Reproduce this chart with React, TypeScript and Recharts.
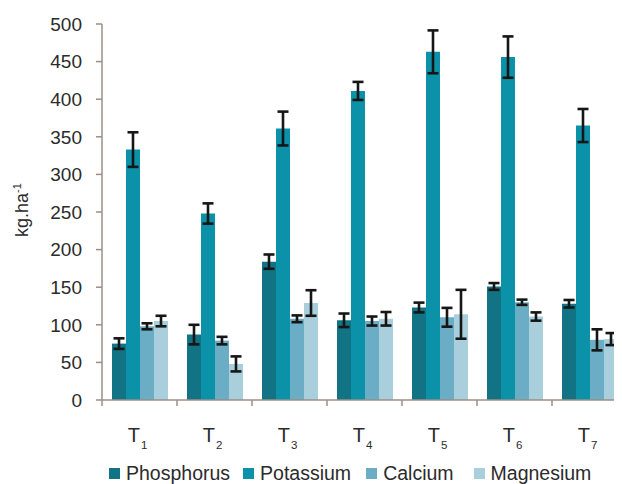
import React from 'react';
import { BarChart, Bar, XAxis, YAxis, ErrorBar, Legend } from 'recharts';

const categories = ['1', '2', '3', '4', '5', '6', '7'];
const phosphorus = [75, 87, 184, 106, 123, 151, 128];
const phosphorusErr = [7, 13, 9.5, 9, 6.5, 4.5, 5];
const potassium = [333, 248, 361, 411, 463, 456, 365];
const potassiumErr = [23, 13.5, 22.5, 12, 28.5, 27.5, 22];
const calcium = [98, 79, 108, 105, 110, 130, 80];
const calciumErr = [4, 5, 4.5, 6, 12.5, 3.5, 14];
const magnesium = [105, 48, 129, 108, 114, 111, 81];
const magnesiumErr = [7, 10, 17, 9, 32.5, 5.5, 8];
const yTicks = [0, 50, 100, 150, 200, 250, 300, 350, 400, 450, 500];

const seriesNames = ['Phosphorus', 'Potassium', 'Calcium', 'Magnesium'];
const seriesColors = ['#117384', '#0c92a8', '#6aadc4', '#aacfdc'];
const legendGaps = [13, 15, 20, 0];

const data = categories.map((c, i) => ({
  cat: c,
  Phosphorus: phosphorus[i],
  PhosphorusErr: phosphorusErr[i],
  Potassium: potassium[i],
  PotassiumErr: potassiumErr[i],
  Calcium: calcium[i],
  CalciumErr: calciumErr[i],
  Magnesium: magnesium[i],
  MagnesiumErr: magnesiumErr[i],
}));

const AXIS = '#9c8e86';
const TEXT = '#2b2b2b';

const XTick = (props: any) => {
  const { x, y, payload, index } = props;
  const half = payload && typeof payload.offset === 'number' && payload.offset > 0 ? payload.offset : 37.5;
  const last = index === categories.length - 1;
  return (
    <g>
      <line x1={x - half} x2={x - half} y1={y} y2={y + 6} stroke={AXIS} strokeWidth={1.5} />
      {last && <line x1={x + half} x2={x + half} y1={y} y2={y + 6} stroke={AXIS} strokeWidth={1.5} />}
      <text x={x - 2} y={y + 42} textAnchor="middle" fill={TEXT} fontSize={20}>
        T<tspan fontSize={11.5} dy={7} dx={1}>{payload.value}</tspan>
      </text>
    </g>
  );
};

const YLabel = (props: any) => {
  const vb = props.viewBox || { y: 16, height: 376 };
  const cy = vb.y + vb.height / 2 - 2;
  const cx = 20;
  return (
    <text x={cx} y={cy} transform={`rotate(-90, ${cx}, ${cy})`} textAnchor="middle" fill={TEXT} fontSize={18}>
      kg.ha<tspan fontSize={11} dy={-7}>-1</tspan>
    </text>
  );
};

const LegendContent = () => (
  <div style={{ display: 'flex', alignItems: 'center', fontSize: 19.5, lineHeight: '22px', color: TEXT, whiteSpace: 'nowrap' }}>
    {seriesNames.map((n, i) => (
      <div key={n} style={{ display: 'flex', alignItems: 'center', marginRight: legendGaps[i] }}>
        <span style={{ display: 'inline-block', width: 11, height: 11, background: seriesColors[i], marginRight: 6 }} />
        <span>{n}</span>
      </div>
    ))}
  </div>
);

export default function App() {
  return (
    <div style={{ width: 614, height: 476, overflow: 'hidden', fontFamily: '"Liberation Sans", Arial, sans-serif', position: 'relative' }}>
      <BarChart
        width={630}
        height={476}
        data={data}
        margin={{ top: 16, right: 11, left: 0, bottom: 0 }}
        barCategoryGap={10}
        barGap={0}
      >
        <XAxis
          dataKey="cat"
          interval={0}
          height={84}
          tickSize={0}
          tickMargin={0}
          tickLine={false}
          axisLine={{ stroke: AXIS, strokeWidth: 1.5 }}
          tick={<XTick />}
        />
        <YAxis
          domain={[0, 500]}
          ticks={yTicks}
          interval={0}
          width={94}
          tickSize={6}
          tickMargin={14}
          axisLine={{ stroke: AXIS, strokeWidth: 1.5 }}
          tickLine={{ stroke: AXIS, strokeWidth: 1.5 }}
          tick={{ fill: TEXT, fontSize: 19 }}
          label={<YLabel />}
        />
        <Legend
          layout="horizontal"
          verticalAlign="middle"
          align="center"
          content={<LegendContent />}
          wrapperStyle={{ left: 101, top: 454, width: 520, height: 22 }}
        />
        {seriesNames.map((n, i) => (
          <Bar key={n} dataKey={n} fill={seriesColors[i]} isAnimationActive={false}>
            <ErrorBar dataKey={`${n}Err`} width={5.5} strokeWidth={2.6} stroke="#161616" isAnimationActive={false} />
          </Bar>
        ))}
      </BarChart>
    </div>
  );
}
